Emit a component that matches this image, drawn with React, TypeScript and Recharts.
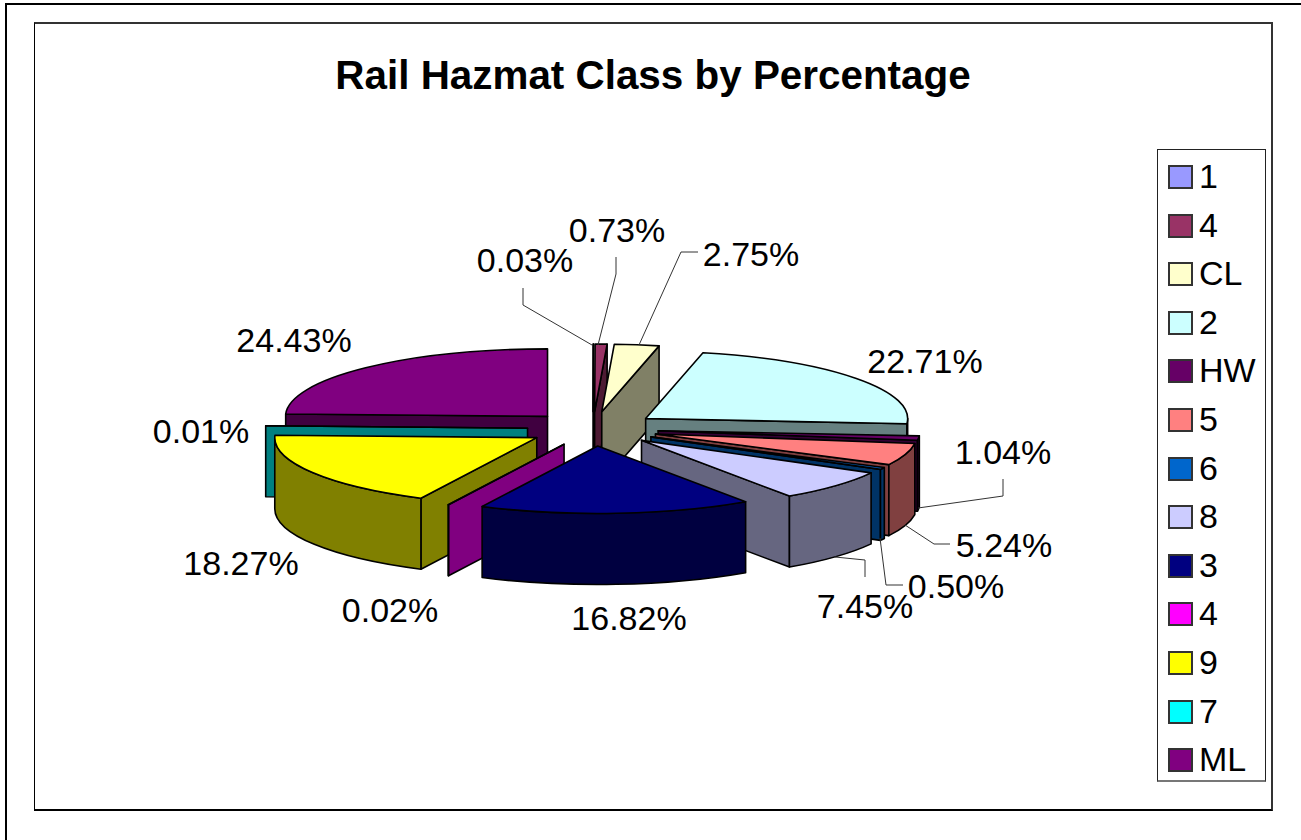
import { Legend, Pie, PieChart } from "recharts";

const CATEGORIES = ["1", "4", "CL", "2", "HW", "5", "6", "8", "3", "4", "9", "7", "ML"];
const PERCENTAGES = [0.03, 0.73, 2.75, 22.71, 1.04, 5.24, 0.5, 7.45, 16.82, 0.02, 18.27, 0.01, 24.43];
const COLORS = [
  "#9999ff",
  "#993366",
  "#ffffcc",
  "#ccffff",
  "#660066",
  "#ff8080",
  "#0066cc",
  "#ccccff",
  "#000080",
  "#ff00ff",
  "#ffff00",
  "#00ffff",
  "#800080",
];

const FONT = '"Liberation Sans", Arial, sans-serif';

// Pie geometry: the circle is squashed into an ellipse and extruded
const CENTER_X = 593;
const CENTER_Y = 428.8;
const RADIUS_X = 262;
const RADIUS_Y = 67.5;
const DEPTH = 71;
const EXPLODE_X = 0.25;
const EXPLODE_Y = 0.255;

// Painter's order: right side is drawn first, front to the end, then the left side from the back
const RIGHT_COUNT = 8;
const LEFT_COUNT = 5;

// Hand placed label anchors + leader lines (per slice, in legend order)
const LABEL_SPOTS: { x: number; y: number; line?: number[][] }[] = [
  { x: 525, y: 272, line: [[523, 288], [523, 305], [592, 345]] },
  { x: 617, y: 242, line: [[616, 257], [616, 274], [598, 345]] },
  { x: 751, y: 266, line: [[698, 252], [681, 252], [639, 345]] },
  { x: 925, y: 373 },
  { x: 1003, y: 464, line: [[1003, 479], [1003, 496], [918, 508]] },
  { x: 1004, y: 557, line: [[950, 544], [934, 544], [905, 525]] },
  { x: 956, y: 598, line: [[903, 585], [886, 585], [880, 538]] },
  { x: 865, y: 618, line: [[865, 577], [865, 560], [835, 557]] },
  { x: 629, y: 630 },
  { x: 390, y: 622 },
  { x: 241, y: 575 },
  { x: 201, y: 443 },
  { x: 294, y: 352 },
];

const slices = CATEGORIES.map((name, i) => ({
  name,
  value: PERCENTAGES[i],
  fill: COLORS[i],
  slot: i,
}));
const reversedSlices = [...slices].reverse();

function halfTone(hex: string) {
  const channels = [1, 3, 5].map((p) => Math.round(parseInt(hex.slice(p, p + 2), 16) / 2));
  return `rgb(${channels.join(",")})`;
}

function Slice3D(props: any) {
  const { startAngle, endAngle, payload, fill } = props;
  const hi = Math.max(startAngle, endAngle);
  const lo = Math.min(startAngle, endAngle);
  // clockwise degrees from 12 o'clock
  let from = 90 - hi;
  let to = 90 - lo;
  if (from < 0) {
    from += 360;
    to += 360;
  }
  const mid = (((from + to) / 2) * Math.PI) / 180;
  const ox = props.cx + Math.sin(mid) * RADIUS_X * EXPLODE_X;
  const oy = props.cy - Math.cos(mid) * RADIUS_Y * EXPLODE_Y;
  const rim = (deg: number, drop = 0) => {
    const a = (deg * Math.PI) / 180;
    return `${ox + Math.sin(a) * RADIUS_X} ${oy - Math.cos(a) * RADIUS_Y + drop}`;
  };
  const arcs = `${RADIUS_X} ${RADIUS_Y} 0`;
  const wall = halfTone(fill ?? payload.fill);
  const top = payload.fill;
  const stroke = { stroke: "#000", strokeWidth: 1.6, strokeLinejoin: "round" as const };

  const sideWall = (deg: number) => (
    <path
      d={`M ${ox} ${oy} L ${rim(deg)} L ${rim(deg, DEPTH)} L ${ox} ${oy + DEPTH} Z`}
      fill={wall}
      {...stroke}
    />
  );
  const fromRad = (from * Math.PI) / 180;
  const toRad = (to * Math.PI) / 180;
  const frontFrom = Math.max(from, 90);
  const frontTo = Math.min(to, 270);

  return (
    <g>
      {Math.sin(fromRad) < -0.001 ? sideWall(from) : null}
      {Math.sin(toRad) > 0.001 ? sideWall(to) : null}
      {frontTo > frontFrom ? (
        <path
          d={`M ${rim(frontFrom)} A ${arcs} 0 1 ${rim(frontTo)} L ${rim(frontTo, DEPTH)} A ${arcs} 0 0 ${rim(frontFrom, DEPTH)} Z`}
          fill={wall}
          {...stroke}
        />
      ) : null}
      <path
        d={`M ${ox} ${oy} L ${rim(from)} A ${arcs} ${to - from > 180 ? 1 : 0} 1 ${rim(to)} Z`}
        fill={top}
        {...stroke}
      />
    </g>
  );
}

function SliceLabel(props: any) {
  const { payload } = props;
  const spot = LABEL_SPOTS[payload.slot];
  return (
    <g>
      {spot.line ? (
        <polyline
          points={spot.line.map((p) => p.join(",")).join(" ")}
          fill="none"
          stroke="#333"
          strokeWidth={1}
        />
      ) : null}
      <text x={spot.x} y={spot.y} textAnchor="middle" fontSize={34} fontFamily={FONT} fill="#000">
        {`${payload.value.toFixed(2)}%`}
      </text>
    </g>
  );
}

function LegendBox() {
  return (
    <div
      style={{
        boxSizing: "border-box",
        width: 109,
        height: 633,
        border: "1px solid #222",
        borderBottom: "2px solid #777",
        background: "#fff",
        paddingTop: 15,
        fontFamily: FONT,
        fontSize: 34,
        color: "#000",
      }}
    >
      {CATEGORIES.map((name, i) => (
        <div
          key={i}
          style={{ height: 48.6, display: "flex", alignItems: "flex-start", lineHeight: "23px" }}
        >
          <span
            style={{
              boxSizing: "border-box",
              width: 25,
              height: 24,
              marginLeft: 10,
              marginRight: 6,
              border: "2px solid #333",
              background: COLORS[i],
            }}
          />
          <span>{name}</span>
        </div>
      ))}
    </div>
  );
}

export default function App() {
  return (
    <div
      style={{
        position: "absolute",
        left: 0,
        top: 0,
        width: 1301,
        height: 840,
        overflow: "hidden",
        background: "#fff",
      }}
    >
      <div
        style={{
          position: "absolute",
          left: 5,
          top: 3,
          width: 1400,
          height: 1000,
          borderLeft: "2px solid #000",
          borderTop: "2px solid #000",
        }}
      />
      <div
        style={{
          position: "absolute",
          left: 34,
          top: 22,
          width: 1239,
          height: 789,
          borderLeft: "1px solid #000",
          borderTop: "2px solid #333",
          borderRight: "2px solid #333",
          borderBottom: "2px solid #000",
          boxSizing: "border-box",
        }}
      />
      <div
        style={{
          position: "absolute",
          left: 0,
          top: 0,
        }}
      >
        <PieChart width={1301} height={840} margin={{ top: 0, right: 0, bottom: 0, left: 0 }}>
          <text
            x={653}
            y={89}
            textAnchor="middle"
            fontFamily={FONT}
            fontWeight="bold"
            fontSize={40.4}
            fill="#000"
          >
            Rail Hazmat Class by Percentage
          </text>
          <Legend
            content={<LegendBox />}
            wrapperStyle={{ position: "absolute", left: 1157, top: 149, width: 109, bottom: "auto" }}
          />
          <Pie
            data={slices}
            dataKey="value"
            nameKey="name"
            cx={CENTER_X}
            cy={CENTER_Y}
            innerRadius={0}
            outerRadius={RADIUS_X}
            startAngle={90}
            endAngle={-270}
            paddingAngle={0}
            stroke="none"
            isAnimationActive={false}
            shape={(p: any) => (p.index < RIGHT_COUNT ? <Slice3D {...p} /> : <g />)}
            labelLine={false}
            label={(p: any) => (p.index < RIGHT_COUNT ? <SliceLabel {...p} /> : null)}
          />
          <Pie
            data={reversedSlices}
            dataKey="value"
            nameKey="name"
            cx={CENTER_X}
            cy={CENTER_Y}
            innerRadius={0}
            outerRadius={RADIUS_X}
            startAngle={90}
            endAngle={450}
            paddingAngle={0}
            stroke="none"
            legendType="none"
            isAnimationActive={false}
            shape={(p: any) => (p.index < LEFT_COUNT ? <Slice3D {...p} /> : <g />)}
            labelLine={false}
            label={(p: any) => (p.index < LEFT_COUNT ? <SliceLabel {...p} /> : null)}
          />
        </PieChart>
      </div>
    </div>
  );
}
